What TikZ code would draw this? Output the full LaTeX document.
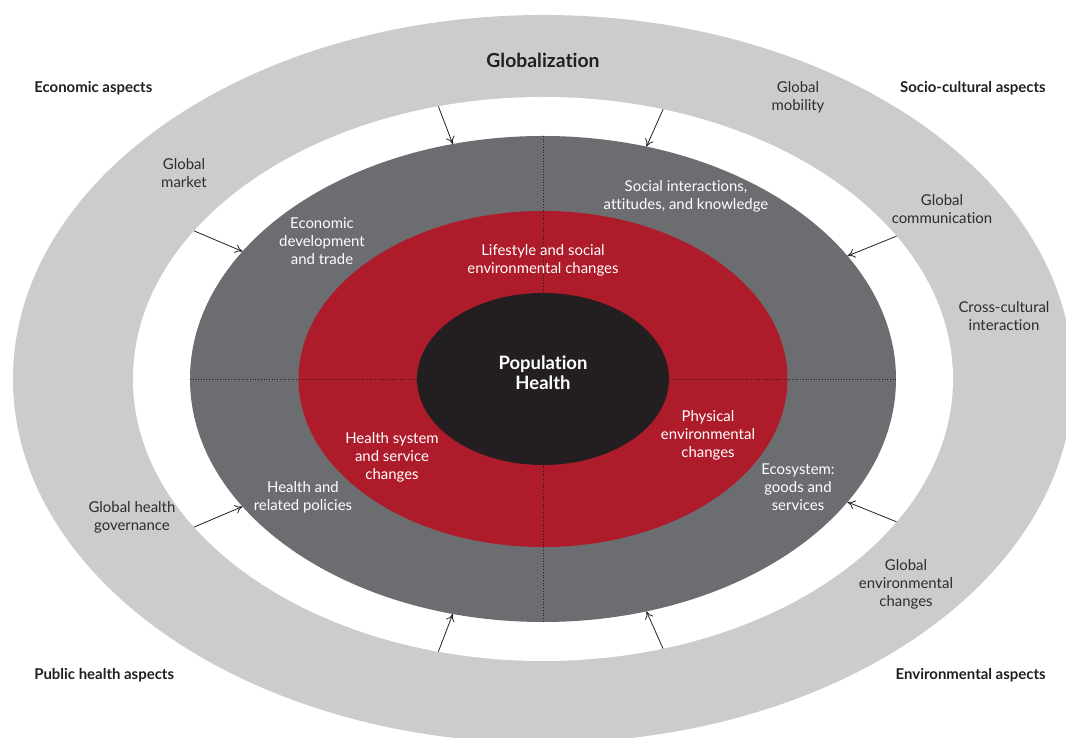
\documentclass[tikz,border=0pt]{standalone}
\usepackage{fontspec}
\setmainfont{Lato}[Ligatures=NoCommon]
\usetikzlibrary{arrows.meta, positioning, shapes.geometric}
\definecolor{glight}{HTML}{CBCCCE}
\definecolor{gdark}{HTML}{6C6D71}
\definecolor{gred}{HTML}{AE1C2B}
\definecolor{gblack}{HTML}{231F20}
\definecolor{gtext}{HTML}{2E2C2D}

\begin{document}
\begin{tikzpicture}[
  every node/.style={font=\fontsize{8.5}{10.2}\selectfont},
  ring/.style={ellipse, fill=#1, inner sep=0pt, outer sep=0pt},
  aspect/.style={font=\fontsize{8.5}{10.2}\selectfont\bfseries, text=gblack, inner sep=0pt},
  outlbl/.style={align=center, text=gtext},
  inlbl/.style={align=center, text=white},
  push/.style={-{To[length=1.5mm, width=1.8mm]}, line width=0.45pt, draw=gblack},
  quad/.style={gblack, line width=0.55pt, dash pattern=on 0.55pt off 1pt},
]
\useasboundingbox (-10.86,-7.18) rectangle (10.46,7.58);

% Rings
\node[ring=glight, minimum width=21.2cm, minimum height=14.56cm] (glob) at (0,0) {};
\node[ring=white, minimum width=16.4cm, minimum height=11.28cm] (gap) at (0,0) {};
\node[ring=gdark, minimum width=14.12cm, minimum height=9.72cm] (mid) at (0,0) {};
\node[ring=gred, minimum width=9.78cm, minimum height=6.72cm] (inner) at (0,0) {};

% Quadrant lines
\draw[quad] (mid.west) -- (mid.east);
\draw[quad] (mid.north) -- (mid.south);

\node[ring=gblack, minimum width=5.04cm, minimum height=3.44cm] (core) at (0,0) {};

% Aspects
\node[aspect, font=\fontsize{11}{13}\selectfont\bfseries] (title) at (0,6.38) {Globalization};
\node[aspect, anchor=west] (econ) at (-10.18,5.82) {Economic aspects};
\node[aspect, anchor=east] (socio) at (10.06,5.82) {Socio-cultural aspects};
\node[aspect, anchor=west] (pubh) at (-10.18,-5.92) {Public health aspects};
\node[aspect, anchor=east] (envi) at (10.06,-5.92) {Environmental aspects};

% Global drivers
\node[outlbl] (market) at (-7.18,4.12) {Global\\market};
\node[outlbl] (mobility) at (5.1,5.64) {Global\\mobility};
\node[outlbl] (comm) at (7.98,3.4) {Global\\communication};
\node[outlbl] (cross) at (9.22,1.26) {Cross-cultural\\interaction};
\node[outlbl] (govern) at (-8.22,-2.76) {Global health\\governance};
\node[outlbl] (envchg) at (7.26,-4.1) {Global\\environmental\\changes};

% Inner rings
\node[inlbl] (econdev) at (-4.42,2.76) {Economic\\development\\and trade};
\node[inlbl] (social) at (2.86,3.66) {Social interactions,\\attitudes, and knowledge};
\node[inlbl] (lifestyle) at (0,2.38) {Lifestyle and social\\environmental changes};
\node[inlbl, font=\fontsize{10.5}{11.4}\selectfont\bfseries] (pop) at (0,0.12) {Population\\Health};
\node[inlbl] (hsys) at (-3.02,-1.56) {Health system\\and service\\changes};
\node[inlbl] (phys) at (3.3,-1.12) {Physical\\environmental\\changes};
\node[inlbl] (eco) at (5.1,-2.16) {Ecosystem:\\goods and\\services};
\node[inlbl] (policy) at (-4.8,-2.36) {Health and\\related policies};

% Arrows into the middle ring
\foreach \a in {22,66,111,157,203,249,294,338}
  \draw[push] (gap.\a) -- (mid.\a);

\end{tikzpicture}
\end{document}
